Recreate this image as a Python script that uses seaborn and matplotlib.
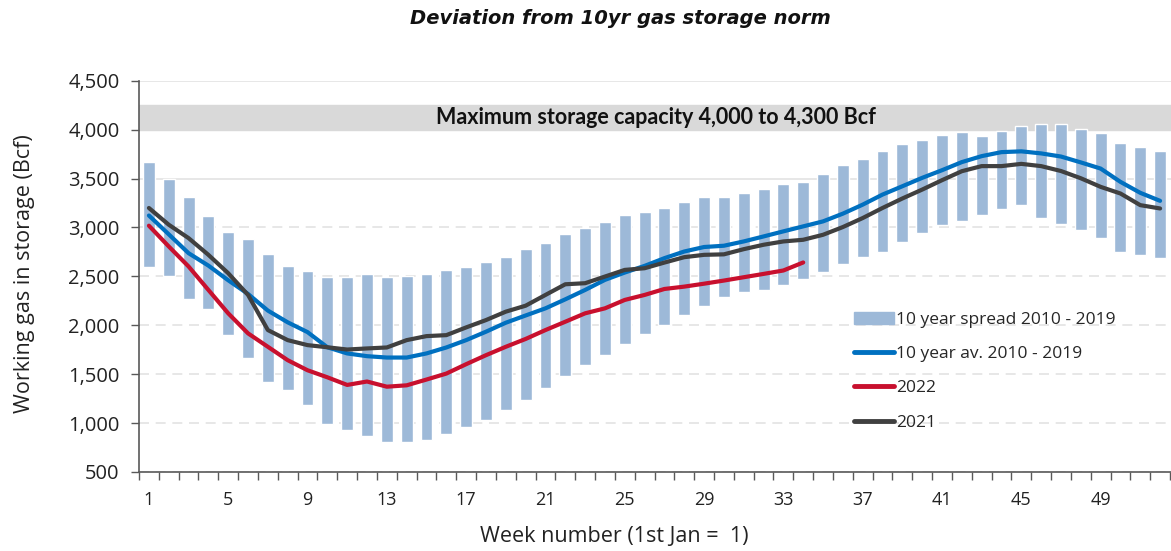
import numpy as np
import pandas as pd
import seaborn as sns
import matplotlib.pyplot as plt
from matplotlib.patches import Patch
from matplotlib.lines import Line2D
import matplotlib.transforms as mtransforms

# week numbers
weeks = list(range(1, 53))
# 10 year spread 2010-2019 (low / high per week)
spread_low = [2597, 2505, 2273, 2171, 1898, 1670, 1421, 1336, 1182, 988,
              933, 872, 807, 807, 831, 885, 960, 1035, 1138, 1240,
              1360, 1479, 1591, 1694, 1806, 1908, 2000, 2103, 2195, 2284,
              2335, 2365, 2410, 2478, 2546, 2625, 2699, 2751, 2853, 2945,
              3023, 3068, 3126, 3187, 3228, 3100, 3034, 2970, 2890, 2750,
              2715, 2688]
spread_high = [3665, 3497, 3316, 3112, 2958, 2879, 2725, 2606, 2557, 2493,
               2495, 2520, 2495, 2506, 2520, 2570, 2600, 2650, 2701, 2775,
               2843, 2931, 2996, 3058, 3126, 3160, 3201, 3262, 3307, 3313,
               3354, 3392, 3443, 3467, 3545, 3637, 3699, 3780, 3852, 3893,
               3944, 3971, 3934, 3985, 4036, 4062, 4062, 4005, 3968, 3866,
               3827, 3778]
# 10 year average 2010-2019
avg_10yr = [3122, 2930, 2737, 2610, 2460, 2320, 2150, 2030, 1930, 1775,
            1712, 1684, 1670, 1670, 1712, 1773, 1848, 1934, 2026, 2100,
            2173, 2265, 2361, 2464, 2539, 2607, 2686, 2754, 2800, 2813,
            2857, 2908, 2960, 3011, 3062, 3141, 3233, 3336, 3421, 3507,
            3585, 3668, 3729, 3770, 3778, 3757, 3725, 3665, 3602, 3466,
            3354, 3272]
# 2022 (to week 34)
weeks_2022 = list(range(1, 35))
y2022 = [3018, 2806, 2601, 2361, 2122, 1917, 1780, 1643, 1540, 1468,
         1390, 1425, 1372, 1386, 1445, 1506, 1602, 1694, 1780, 1860,
         1951, 2036, 2122, 2173, 2259, 2310, 2371, 2395, 2425, 2457,
         2491, 2525, 2560, 2642]
# 2021
y2021 = [3199, 3028, 2891, 2720, 2532, 2310, 1951, 1848, 1797, 1775,
         1752, 1763, 1773, 1848, 1889, 1899, 1978, 2053, 2139, 2200,
         2310, 2419, 2430, 2498, 2566, 2583, 2641, 2696, 2720, 2725,
         2778, 2823, 2857, 2874, 2925, 3004, 3096, 3199, 3296, 3387,
         3483, 3575, 3627, 3627, 3650, 3627, 3577, 3503, 3415, 3347,
         3228, 3194]

yticks = list(range(500, 5000, 500))
xtick_labels = list(range(1, 53, 4))
capacity_band = (4000, 4250)

spread_col = "#9db9d8"
blue = "#0070c0"
red = "#c8102e"
dark = "#404040"

sns.set_theme(style="white")
plt.rcParams['font.family'] = ['Open Sans', 'DejaVu Sans']

fig = plt.figure(figsize=(11.71, 5.51), dpi=100)
ax = fig.add_axes([0.1187, 0.1434, 0.8813, 0.7101])

# gridlines
for v in yticks:
    if v >= 3500:
        ax.axhline(v, color="#e3e3e3", lw=1.2, zorder=0)
    else:
        ax.axhline(v, color="#e3e3e3", lw=1.2, ls=(0, (6, 4)), zorder=0)

# max storage band
ax.axhspan(capacity_band[0], capacity_band[1], color="#d9d9d9", zorder=0.5)
trans = mtransforms.blended_transform_factory(ax.transAxes, ax.transData)
ax.text(0.501, np.mean(capacity_band), "Maximum storage capacity 4,000 to 4,300 Bcf",
        transform=trans, ha="center", va="center", fontsize=15.5,
        fontweight="bold", family=["Lato", "DejaVu Sans"], color="#111111", zorder=3)

# floating bars for the spread
heights = np.array(spread_high) - np.array(spread_low)
ax.bar(weeks, heights, bottom=spread_low, width=0.6, color=spread_col, zorder=1)

df = pd.DataFrame({"week": weeks, "avg": avg_10yr, "y2021": y2021})
df22 = pd.DataFrame({"week": weeks_2022, "y2022": y2022})
sns.lineplot(data=df, x="week", y="avg", color=blue, lw=3, ax=ax, zorder=4)
sns.lineplot(data=df22, x="week", y="y2022", color=red, lw=3, ax=ax, zorder=4)
sns.lineplot(data=df, x="week", y="y2021", color=dark, lw=3, ax=ax, zorder=5)

ax.set_xlim(0.5, 52.55)
ax.set_ylim(500, 4500)
ax.set_yticks(yticks)
ax.set_yticklabels([f"{v:,}" for v in yticks])
ax.set_xticks(xtick_labels)
ax.set_xticklabels([str(w) for w in xtick_labels])
ax.set_xticks(np.arange(0.5, 53, 1), minor=True)
ax.tick_params(axis="x", which="major", length=0, pad=14, labelsize=13, colors="#222222")
ax.tick_params(axis="x", which="minor", length=6, width=1, color="#595959", direction="out", bottom=True)
ax.tick_params(axis="y", length=6, width=1, color="#595959", direction="out", left=True, pad=8,
               labelsize=14.5, labelcolor="#222222")

for s in ["top", "right"]:
    ax.spines[s].set_visible(False)
for s in ["left", "bottom"]:
    ax.spines[s].set_color("#595959")
    ax.spines[s].set_linewidth(1.2)

ax.set_xlabel("Week number (1st Jan =  1)", fontsize=15.5, color="#222222")
ax.xaxis.set_label_coords((614 - 139) / 1032, -(526 - 472) / 391)
ax.set_ylabel("Working gas in storage (Bcf)", fontsize=15.5, color="#222222")
ax.yaxis.set_label_coords(-(139 - 35) / 1032, (472 - 274) / 391)

fig.text(620 / 1171, 1 - 19 / 551, "Deviation from 10yr gas storage norm", ha="center", va="center",
         fontsize=14, fontweight="bold", fontstyle="italic", family=["DejaVu Sans"], color="#111111")

handles = [Patch(color=spread_col),
           Line2D([], [], color=blue, lw=3.5),
           Line2D([], [], color=red, lw=3.5),
           Line2D([], [], color=dark, lw=3.5)]
labels = ["10 year spread 2010 - 2019", "10 year av. 2010 - 2019", "2022", "2021"]
ax.legend(handles, labels, loc="upper left", bbox_to_anchor=(0.678, 0.45), frameon=False,
          fontsize=12.5, handlelength=2.3, handletextpad=0.1, labelspacing=1.05)

fig.savefig("out.png", dpi=100)
